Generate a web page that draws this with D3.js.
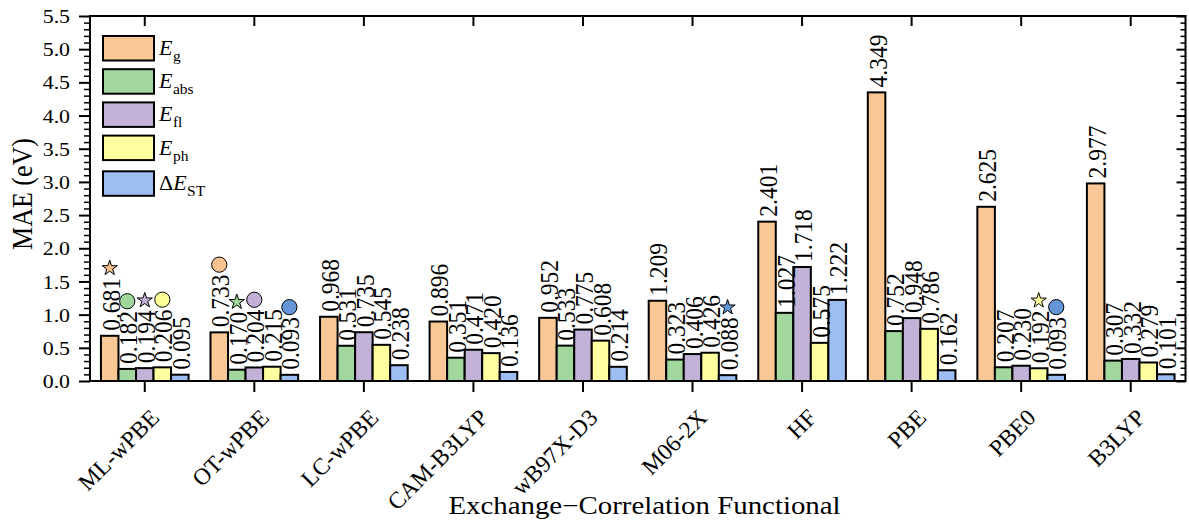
<!DOCTYPE html>
<html><head><meta charset="utf-8">
<script src="https://cdn.jsdelivr.net/npm/d3@7"></script>
<style>
body{margin:0;background:#fff}
text{font-family:"Liberation Serif","Times New Roman",serif;fill:#000}
</style>
</head><body>
<svg id="chart" width="1189" height="521"></svg>
<script>
// ---------------- data ----------------
const functionals = ["ML-wPBE","OT-wPBE","LC-wPBE","CAM-B3LYP","wB97X-D3","M06-2X","HF","PBE","PBE0","B3LYP"];
const seriesKeys  = ["Eg","Eabs","Efl","Eph","dEST"];
const Eg   = [0.681,0.733,0.968,0.896,0.952,1.209,2.401,4.349,2.625,2.977];
const Eabs = [0.182,0.170,0.531,0.351,0.533,0.323,1.027,0.752,0.207,0.307];
const Efl  = [0.194,0.204,0.735,0.471,0.775,0.406,1.718,0.948,0.230,0.332];
const Eph  = [0.206,0.215,0.545,0.420,0.608,0.426,0.575,0.786,0.192,0.279];
const dEST = [0.095,0.093,0.238,0.136,0.214,0.088,1.222,0.162,0.093,0.101];
const yTickValues = [0,0.5,1.0,1.5,2.0,2.5,3.0,3.5,4.0,4.5,5.0,5.5];
// best (star) / second best (circle) markers
const markerFunctional = ["ML-wPBE","OT-wPBE","ML-wPBE","OT-wPBE","ML-wPBE","OT-wPBE","PBE0","ML-wPBE","M06-2X","OT-wPBE","PBE0"];
const markerSeries     = ["Eg","Eg","Eabs","Eabs","Efl","Efl","Eph","Eph","dEST","dEST","dEST"];
const markerShape      = ["star","circle","circle","star","star","circle","star","circle","star","circle","circle"];

const seriesValues = {Eg, Eabs, Efl, Eph, dEST};
const barColors    = {Eg:"#FAC896",Eabs:"#A2D89E",Efl:"#C3B2D7",Eph:"#FFFFA0",dEST:"#9DBEF0"};
const markerColors = {Eg:"#F9C28F",Eabs:"#A0D79A",Efl:"#C2AFD6",Eph:"#FFFF99",dEST:"#6496D7"};

// ---------------- layout ----------------
const svg = d3.select("#chart");
const L = 90, R = 1185.5, T = 16, B = 381;
const x = d3.scaleBand().domain(functionals).range([L, R]).paddingInner(0).paddingOuter(0);
const xs = d3.scaleBand().domain(seriesKeys).range([0, x.bandwidth()]).paddingInner(0).paddingOuter(0.625);
const y = d3.scaleLinear().domain([0, 5.5]).range([B, T]);
const minorTicks = d3.range(0, 55.5, 1).map(d => d / 10).filter(d => Math.round(d * 10) % 5 !== 0);

svg.append("rect").attr("width",1189).attr("height",521).attr("fill","#fff");

// bars
const groups = svg.append("g").selectAll("g").data(functionals).join("g")
  .attr("transform", d => `translate(${x(d)},0)`);
groups.selectAll("rect").data((f, i) => seriesKeys.map(k => ({k, v: seriesValues[k][i]})))
  .join("rect")
  .attr("x", d => xs(d.k)).attr("width", xs.bandwidth())
  .attr("y", d => y(d.v)).attr("height", d => y(0) - y(d.v))
  .attr("fill", d => barColors[d.k]).attr("stroke","#000").attr("stroke-width",2);

// value labels
groups.selectAll("text.val").data((f, i) => seriesKeys.map(k => ({k, v: seriesValues[k][i]})))
  .join("text").attr("class","val")
  .attr("font-size", 23.5)
  .attr("transform", d => `translate(${xs(d.k) + xs.bandwidth()/2 + 10},${y(d.v) - 5}) scale(1.1,1) rotate(-90)`)
  .text(d => d3.format(".3f")(d.v));

// markers
function starPath(Ro) {
  const ri = Ro * 0.382, pts = [];
  for (let i = 0; i < 10; i++) {
    const a = -Math.PI/2 + i * Math.PI / 5, rr = i % 2 ? ri : Ro;
    pts.push([rr * Math.cos(a), rr * Math.sin(a)]);
  }
  return "M" + pts.map(p => p.join(",")).join("L") + "Z";
}
const markerData = markerFunctional.map((f, i) => ({f, k: markerSeries[i], shape: markerShape[i],
  v: seriesValues[markerSeries[i]][functionals.indexOf(f)]}));
svg.append("g").selectAll("path").data(markerData).join("path")
  .attr("transform", d => `translate(${x(d.f) + xs(d.k) + xs.bandwidth()/2},${y(d.v + 1.02)})`)
  .attr("d", d => d.shape === "star" ? starPath(8) : d3.symbol(d3.symbolCircle, Math.PI * 7.6 * 7.6)())
  .attr("fill", d => markerColors[d.k]).attr("stroke","#000").attr("stroke-width",1);

// ---------------- axes ----------------
function styleAxis(g, w) {
  g.select(".domain").remove();
  g.selectAll(".tick line").attr("stroke","#000").attr("stroke-width", w);
}
// left major
const gl = svg.append("g").attr("transform",`translate(${L},0)`)
  .call(d3.axisLeft(y).tickValues(yTickValues).tickSize(11).tickPadding(9).tickFormat(d3.format(".1f")));
styleAxis(gl, 2);
gl.selectAll(".tick text").attr("x", null).attr("dy", null)
  .attr("font-size", 19.5).attr("text-anchor","end").attr("font-family","Liberation Serif")
  .attr("transform","translate(-20,6.6) scale(1.12,1)");
// left minor
styleAxis(svg.append("g").attr("transform",`translate(${L},0)`)
  .call(d3.axisLeft(y).tickValues(minorTicks).tickSize(6).tickFormat("")), 1.5);
// right (inward)
styleAxis(svg.append("g").attr("transform",`translate(${R},0)`)
  .call(d3.axisLeft(y).tickValues(yTickValues).tickSize(9).tickFormat("")), 2);
styleAxis(svg.append("g").attr("transform",`translate(${R},0)`)
  .call(d3.axisLeft(y).tickValues(minorTicks).tickSize(5).tickFormat("")), 1.5);
// top (inward)
styleAxis(svg.append("g").attr("transform",`translate(0,${T})`)
  .call(d3.axisBottom(x).tickSize(10).tickFormat("")), 2);
// bottom
const gb = svg.append("g").attr("transform",`translate(0,${B})`)
  .call(d3.axisBottom(x).tickSize(11));
styleAxis(gb, 2);
gb.selectAll(".tick text").attr("y", null).attr("dy", null)
  .attr("font-size", 23.5).attr("text-anchor","end").attr("font-family","Liberation Serif")
  .attr("transform","translate(16,38) rotate(-45)");

// frame
svg.append("rect").attr("x",L).attr("y",T).attr("width",R-L).attr("height",B-T)
  .attr("fill","none").attr("stroke","#000").attr("stroke-width",2);

// axis titles
svg.append("text").attr("font-size",26).attr("text-anchor","middle")
  .attr("transform","translate(31.5,194) scale(1.15,1) rotate(-90)").text("MAE (eV)");
svg.append("text").attr("font-size",25).attr("text-anchor","middle")
  .attr("transform","translate(644.5,514) scale(1.155,1)").text("Exchange\u2212Correlation Functional");

// ---------------- legend ----------------
const legendPre = ["","","","","\u0394"];
const legendSub = ["g","abs","fl","ph","ST"];
const lg = svg.append("g");
seriesKeys.forEach((k, i) => {
  const top = 36 + i * 33.2 + (i === 4 ? 2.5 : 0);
  lg.append("rect").attr("x",103).attr("y",top).attr("width",51).attr("height",24.5)
    .attr("fill", barColors[k]).attr("stroke","#000").attr("stroke-width",2);
  const t = lg.append("text").attr("x",159).attr("y",top + 19).attr("font-size",22);
  if (legendPre[i]) t.append("tspan").text(legendPre[i]);
  t.append("tspan").attr("font-style","italic").text("E");
  t.append("tspan").attr("font-size",15.5).attr("dy",6).attr("dx",0.5).text(legendSub[i]);
});
</script>
</body></html>
